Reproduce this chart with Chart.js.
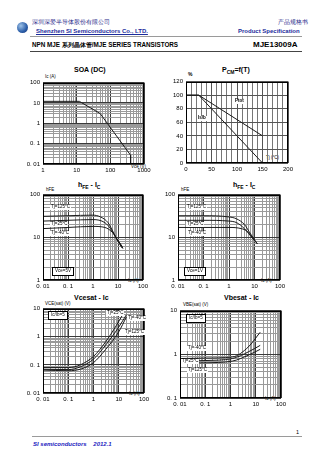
<!DOCTYPE html>
<html><head><meta charset="utf-8">
<script src="https://cdn.jsdelivr.net/npm/chart.js@4/dist/chart.umd.min.js"></script>
<style>
html,body{margin:0;padding:0;background:#fff}
body{width:336px;height:474px;position:relative;overflow:hidden;font-family:"Liberation Sans",Arial,sans-serif;color:#000}
.t{position:absolute;white-space:nowrap;line-height:1}
.b{font-weight:bold}
canvas{position:absolute}
.note{position:absolute;white-space:nowrap;line-height:1;font-size:4.5px;background:#fff;padding:0 1px}
.box{border:0.8px solid #000;padding:1px 2px}
.hl{position:absolute;height:0}
</style></head>
<body>
<!-- header -->
<div style="position:absolute;left:17px;top:22px;width:11px;height:11px;border-radius:50%;background:radial-gradient(circle at 35% 35%,#9ec3e8,#2a5da8 60%,#1c3570)"></div>
<div class="t" style="left:32px;top:20px;font-size:5.5px;color:#2a2a8a">深圳深爱半导体股份有限公司</div>
<div class="t b" style="left:36px;top:28px;font-size:6px;color:#1c2c9c;text-decoration:underline">Shenzhen SI Semiconductors Co., LTD.</div>
<div class="t" style="left:278px;top:20px;font-size:5.5px;color:#2a2a8a">产品规格书</div>
<div class="t b" style="left:238px;top:28px;font-size:6px;color:#1c2c9c">Product Specification</div>
<div class="hl" style="left:30px;top:36px;width:272px;border-top:1px solid #9a9a9a"></div>
<div class="t b" style="left:32px;top:42px;font-size:6.3px">NPN MJE 系列晶体管/MJE SERIES TRANSISTORS</div>
<div class="t b" style="left:253px;top:41px;font-size:8px">MJE13009A</div>
<div class="hl" style="left:30px;top:51px;width:272px;border-top:1px solid #444"></div>

<!-- titles -->
<div class="t b" style="left:74px;top:66px;font-size:7px">SOA (DC)</div>
<div class="t b" style="left:222px;top:66px;font-size:7px">P<sub style="font-size:5px">CM</sub>=f(T)</div>
<div class="t b" style="left:78px;top:181px;font-size:7px">h<sub style="font-size:5px">FE</sub> - I<sub style="font-size:5px">C</sub></div>
<div class="t b" style="left:233px;top:181px;font-size:7px">h<sub style="font-size:5px">FE</sub> - I<sub style="font-size:5px">C</sub></div>
<div class="t b" style="left:74px;top:294px;font-size:7px">Vcesat - Ic</div>
<div class="t b" style="left:224px;top:294px;font-size:7px">Vbesat - Ic</div>

<!-- axis unit labels -->
<div class="t" style="left:45px;top:75px;font-size:4.5px">Ic (A)</div>
<div class="t" style="left:131px;top:165px;font-size:4.5px">Vce (V)</div>
<div class="t b" style="left:188px;top:72px;font-size:5px">%</div>
<div class="t" style="left:266px;top:156px;font-size:4.5px">Tj (°C)</div>
<div class="t" style="left:46px;top:188px;font-size:4.5px">hFE</div>
<div class="t" style="left:128px;top:279px;font-size:4.5px">Ic (A)</div>
<div class="t" style="left:181px;top:188px;font-size:4.5px">hFE</div>
<div class="t" style="left:261px;top:279px;font-size:4.5px">Ic (A)</div>
<div class="t" style="left:45px;top:302px;font-size:4.5px">VCE(sat) (V)</div>
<div class="t" style="left:129px;top:392px;font-size:4.5px">Ic (A)</div>
<div class="t" style="left:183px;top:303px;font-size:4.5px">VBE(sat) (V)</div>
<div class="t" style="left:265px;top:397px;font-size:4.5px">Ic (A)</div>

<canvas id="c1"></canvas><canvas id="c2"></canvas><canvas id="c3"></canvas>
<canvas id="c4"></canvas><canvas id="c5"></canvas><canvas id="c6"></canvas>

<!-- in-plot notes -->
<div class="note b" style="left:234px;top:99px">Ptot</div>
<div class="note b" style="left:197px;top:116px">Is/b</div>
<div class="note" style="left:50px;top:205px">Tj=125°C</div>
<div class="note" style="left:50px;top:222px">Tj=25°C</div>
<div class="note" style="left:50px;top:231px">Tj=-40°C</div>
<div class="note box" style="left:52px;top:267px">Vce=5V</div>
<div class="note" style="left:186px;top:205px">Tj=125°C</div>
<div class="note" style="left:186px;top:222px">Tj=25°C</div>
<div class="note" style="left:187px;top:231px">Tj=-40°C</div>
<div class="note box" style="left:184px;top:267px">Vce=1V</div>
<div class="note box" style="left:48px;top:311px">Ic/Ib=5</div>
<div class="note" style="left:106px;top:311px">Tj=25°C</div>
<div class="note" style="left:127px;top:316px">Tj=-40°C</div>
<div class="note" style="left:124px;top:330px">Tj=125°C</div>
<div class="note box" style="left:186px;top:314px">Ic/Ib=5</div>
<div class="note" style="left:187px;top:346px">Tj=-40°C</div>
<div class="note" style="left:181px;top:359px">Tj=25°C</div>
<div class="note" style="left:187px;top:368px">Tj=125°C</div>

<!-- footer -->
<div class="hl" style="left:32px;top:436px;width:270px;border-top:1px solid #9a9a9a"></div>
<div class="t" style="left:296px;top:430px;font-size:5.5px">1</div>
<div class="t b" style="left:33px;top:441px;font-size:6px;font-style:italic;color:#1c1cc0">SI semiconductors &nbsp;&nbsp;&nbsp;2012.1</div>

<script>
const FONT = '"Liberation Sans", Arial, sans-serif';

// ---------- data ----------
// SOA (DC)
const soaVce = [1, 12, 50, 400, 400];
const soaIc  = [12, 12, 3, 0.027, 0.01];
const soaXTickVals = [1, 10, 100, 1000];
const soaXTickText = ['1', '10', '100', '1000'];
const soaYTickVals = [0.01, 0.1, 1, 10, 100];
const soaYTickText = ['0. 01', '0. 1', '1', '10', '100'];

// Power derating
const pdTj     = [0, 25, 150];
const pdPtot   = [100, 100, 40];
const pdIsb    = [100, 100, 0];
const pdXTickVals = [0, 50, 100, 150, 200];
const pdXTickText = ['0', '50', '100', '150', '200'];
const pdYTickVals = [0, 20, 40, 60, 80, 100, 120];
const pdYTickText = ['0', '20', '40', '60', '80', '100', '120'];

// hFE - Ic, Vce = 5V
const h5Ic125 = [0.01, 0.1, 1, 2, 4, 7, 10, 15];
const h5Hfe125 = [31, 32, 33, 30, 22, 12, 8, 5.5];
const h5Ic25 = [0.01, 0.1, 1, 3, 5, 9, 16];
const h5Hfe25 = [24, 25, 26, 22, 16, 9, 5.5];
const h5IcM40 = [0.01, 0.1, 1, 3, 6, 10, 15];
const h5HfeM40 = [16, 17, 18, 17, 13, 8.5, 6];

// hFE - Ic, Vce = 1V
const h1Ic125 = [0.01, 0.1, 1, 2, 4, 7, 13];
const h1Hfe125 = [32, 32, 30, 27, 20, 12, 7];
const h1Ic25 = [0.01, 0.1, 1, 2, 4, 9, 13];
const h1Hfe25 = [25, 25, 24, 22, 16, 9, 7];
const h1IcM40 = [0.01, 0.1, 1, 3, 5, 10];
const h1HfeM40 = [17, 17, 17, 16, 14, 8.5];

const icTickVals = [0.01, 0.1, 1, 10, 100];
const icTickText = ['0. 01', '0. 1', '1', '10', '100'];
const hfeTickVals = [1, 10, 100];
const hfeTickText = ['1', '10', '100'];

// Vce(sat) - Ic
const vceIc25 = [0.01, 0.1, 0.3, 1, 3, 10, 20];
const vce25 = [0.065, 0.062, 0.07, 0.12, 0.35, 1.5, 5];
const vceIcM40 = [0.01, 0.1, 0.3, 1, 3, 10, 20];
const vceM40 = [0.07, 0.068, 0.085, 0.16, 0.5, 2.2, 6];
const vceIc125 = [0.01, 0.1, 0.3, 1, 3, 8, 15];
const vce125 = [0.08, 0.08, 0.1, 0.2, 0.65, 2.5, 6.5];
const vceTickVals = [0.01, 0.1, 1, 10];
const vceTickText = ['0. 01', '0. 1', '1', '10'];

// Vbe(sat) - Ic
const vbeIcM40 = [0.01, 0.1, 1.2, 5, 15];
const vbeM40 = [0.8, 0.82, 0.87, 1.46, 3.2];
const vbeIc25 = [0.01, 0.1, 1.2, 5, 15];
const vbe25 = [0.7, 0.72, 0.8, 1.13, 1.6];
const vbeIc125 = [0.01, 0.1, 1.2, 5, 15];
const vbe125 = [0.63, 0.64, 0.7, 0.95, 1.3];
const vbeTickVals = [0.1, 1, 10];
const vbeTickText = ['0. 1', '1', '10'];

// ---------- helpers ----------
const LY = 24, LX = 12, PT = 6, PR = 12;
const near = (a, b) => Math.abs(a - b) <= 1e-9 * Math.max(Math.abs(a), Math.abs(b), 1e-12);
function logGrid(min, max) {
  const out = [];
  for (let e = Math.floor(Math.log10(min)); e <= Math.ceil(Math.log10(max)); e++) {
    for (let m = 1; m <= 9; m++) {
      const v = +(m * Math.pow(10, e)).toPrecision(6);
      if (v >= min * 0.999999 && v <= max * 1.000001) out.push(v);
    }
  }
  return out;
}
function linGrid(min, max, step) { const o = []; for (let v = min; v <= max + 1e-9; v += step) o.push(v); return o; }
const pts = (xs, ys) => xs.map((x, i) => ({ x, y: ys[i] }));

function axis(type, pos, min, max, labelVals, labelTexts, gridVals, minorColor, majorColor) {
  return {
    type, position: pos, min, max,
    afterBuildTicks: s => { s.ticks = gridVals.map(v => ({ value: v, major: labelVals.some(l => near(l, v)) })); },
    afterFit: s => { if (pos === 'bottom') s.height = LX; else s.width = LY; },
    ticks: {
      autoSkip: false, maxRotation: 0, minRotation: 0, padding: 3, color: '#000',
      font: { family: FONT, size: 6 },
      callback: v => { const i = labelVals.findIndex(l => near(l, v)); return i >= 0 ? labelTexts[i] : ''; }
    },
    grid: { drawTicks: false, lineWidth: 1, color: c => (c.tick && c.tick.major) ? majorColor : minorColor },
    border: { display: false }
  };
}
const frame = {
  id: 'frame',
  afterDraw(chart) {
    const { ctx, chartArea: a } = chart;
    ctx.save(); ctx.strokeStyle = '#000'; ctx.lineWidth = 1;
    ctx.strokeRect(Math.round(a.left) + 0.5, Math.round(a.top) + 0.5, Math.round(a.right - a.left) - 1, Math.round(a.bottom - a.top) - 1);
    ctx.restore();
  }
};
function ds(data, smooth) {
  return { data, showLine: true, pointRadius: 0, borderColor: '#1a1a1a', borderWidth: 1,
    cubicInterpolationMode: smooth ? 'monotone' : 'default', tension: 0, fill: false };
}
function make(id, box, datasets, xAxis, yAxis) {
  const c = document.getElementById(id);
  const w = LY + (box.R - box.L) + PR, h = PT + (box.B - box.T) + LX;
  c.width = w; c.height = h;
  c.style.left = (box.L - LY) + 'px'; c.style.top = (box.T - PT) + 'px';
  c.style.width = w + 'px'; c.style.height = h + 'px';
  new Chart(c, {
    type: 'scatter',
    data: { datasets },
    options: {
      responsive: false, animation: false, devicePixelRatio: 1,
      layout: { padding: { top: PT, right: PR, left: 0, bottom: 0 } },
      plugins: { legend: { display: false }, tooltip: { enabled: false }, title: { display: false } },
      scales: { x: xAxis, y: yAxis }
    },
    plugins: [frame]
  });
}
const MINOR = '#9a9a9a', MAJOR = '#3a3a3a';

// 1 SOA
make('c1', { L: 43, R: 144, T: 82, B: 164 },
  [ds(pts(soaVce, soaIc), false)],
  axis('logarithmic', 'bottom', 1, 1000, soaXTickVals, soaXTickText, logGrid(1, 1000), MINOR, MAJOR),
  axis('logarithmic', 'left', 0.01, 100, soaYTickVals, soaYTickText, logGrid(0.01, 100), MINOR, MAJOR));

// 2 Derating
make('c2', { L: 186, R: 288, T: 81, B: 163 },
  [ds(pts(pdTj, pdPtot), false), ds(pts(pdTj, pdIsb), false)],
  axis('linear', 'bottom', 0, 200, pdXTickVals, pdXTickText, linGrid(0, 200, 10), '#777', '#555'),
  axis('linear', 'left', 0, 120, pdYTickVals, pdYTickText, linGrid(0, 120, 20), '#777', '#555'));

// 3 hFE Vce=5V
make('c3', { L: 43, R: 143, T: 194, B: 280 },
  [ds(pts(h5Ic125, h5Hfe125), true), ds(pts(h5Ic25, h5Hfe25), true), ds(pts(h5IcM40, h5HfeM40), true)],
  axis('logarithmic', 'bottom', 0.01, 100, icTickVals, icTickText, logGrid(0.01, 100), MINOR, MAJOR),
  axis('logarithmic', 'left', 1, 100, hfeTickVals, hfeTickText, logGrid(1, 100), MINOR, MAJOR));

// 4 hFE Vce=1V
make('c4', { L: 178, R: 280, T: 194, B: 280 },
  [ds(pts(h1Ic125, h1Hfe125), true), ds(pts(h1Ic25, h1Hfe25), true), ds(pts(h1IcM40, h1HfeM40), true)],
  axis('logarithmic', 'bottom', 0.01, 100, icTickVals, icTickText, logGrid(0.01, 100), MINOR, MAJOR),
  axis('logarithmic', 'left', 1, 100, hfeTickVals, hfeTickText, logGrid(1, 100), MINOR, MAJOR));

// 5 Vce(sat)
make('c5', { L: 43, R: 144, T: 308, B: 393 },
  [ds(pts(vceIc25, vce25), true), ds(pts(vceIcM40, vceM40), true), ds(pts(vceIc125, vce125), true)],
  axis('logarithmic', 'bottom', 0.01, 100, icTickVals, icTickText, logGrid(0.01, 100), MINOR, MAJOR),
  axis('logarithmic', 'left', 0.01, 10, vceTickVals, vceTickText, logGrid(0.01, 10), MINOR, MAJOR));

// 6 Vbe(sat)
make('c6', { L: 180, R: 281, T: 310, B: 398 },
  [ds(pts(vbeIcM40, vbeM40), true), ds(pts(vbeIc25, vbe25), true), ds(pts(vbeIc125, vbe125), true)],
  axis('logarithmic', 'bottom', 0.01, 100, icTickVals, icTickText, logGrid(0.01, 100), MINOR, MAJOR),
  axis('logarithmic', 'left', 0.1, 10, vbeTickVals, vbeTickText, logGrid(0.1, 10), MINOR, MAJOR));
</script>
</body></html>
